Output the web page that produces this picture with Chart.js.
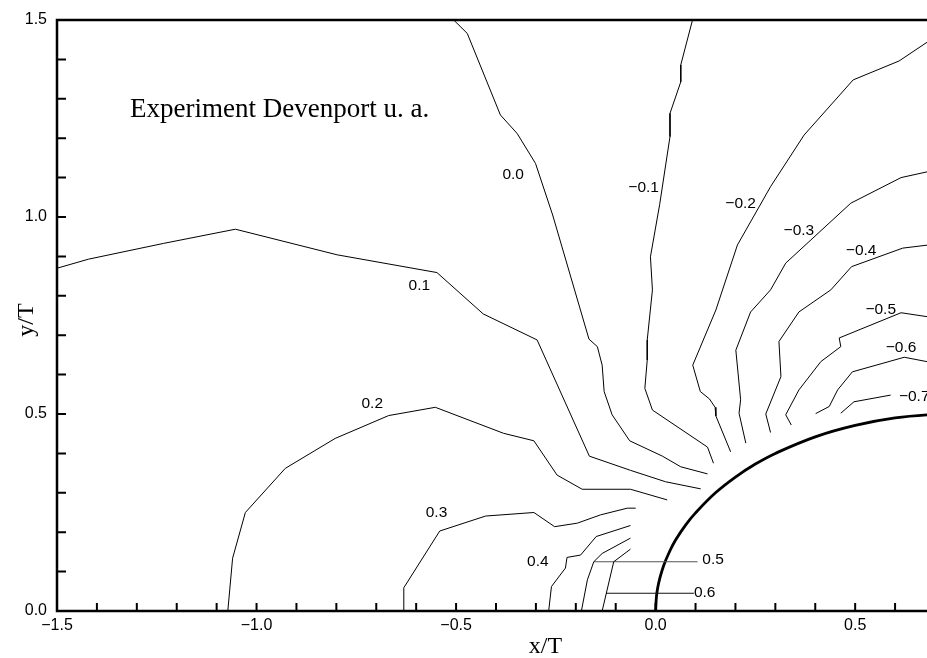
<!DOCTYPE html>
<html>
<head>
<meta charset="utf-8">
<script src="https://cdn.jsdelivr.net/npm/chart.js@4.4.1/dist/chart.umd.min.js"></script>
<style>
html,body{margin:0;padding:0;background:#fff;overflow:hidden}
#wrap{width:927px;height:658px;position:relative}
</style>
</head>
<body>
<div id="wrap"><canvas id="c" width="927" height="658"></canvas></div>
<script>
// ---- contour lines (x/T, y/T) ----
const p01x = [-1.500, -1.421, -1.233, -1.053, -0.798, -0.548, -0.432, -0.297, -0.166, -0.063, 0.025, 0.113];
const p01y = [0.870, 0.893, 0.933, 0.969, 0.904, 0.859, 0.754, 0.688, 0.393, 0.357, 0.328, 0.310];

const p00x = [-0.515, -0.472, -0.389, -0.347, -0.301, -0.258, -0.167, -0.146, -0.134, -0.129, -0.109, -0.065, 0.017, 0.063, 0.130];
const p00y = [1.509, 1.466, 1.259, 1.212, 1.136, 1.005, 0.690, 0.671, 0.624, 0.557, 0.498, 0.432, 0.393, 0.366, 0.348];

const m01x = [0.095, 0.063, 0.063, 0.036, 0.036, 0.010, -0.013, -0.008, -0.021, -0.021, -0.027, -0.008, 0.130, 0.145];
const m01y = [1.510, 1.386, 1.343, 1.263, 1.204, 1.031, 0.899, 0.815, 0.688, 0.637, 0.565, 0.510, 0.416, 0.375];

const m02x = [0.700, 0.610, 0.495, 0.372, 0.288, 0.205, 0.151, 0.093, 0.112, 0.135, 0.149, 0.151, 0.188];
const m02y = [1.457, 1.396, 1.348, 1.208, 1.077, 0.929, 0.764, 0.624, 0.557, 0.538, 0.517, 0.495, 0.404];

const m03x = [0.700, 0.615, 0.489, 0.326, 0.288, 0.238, 0.201, 0.213, 0.209, 0.226];
const m03y = [1.119, 1.100, 1.035, 0.883, 0.815, 0.759, 0.662, 0.536, 0.502, 0.426];

const m04x = [0.700, 0.619, 0.491, 0.439, 0.359, 0.309, 0.314, 0.276, 0.288];
const m04y = [0.931, 0.921, 0.874, 0.815, 0.759, 0.684, 0.595, 0.500, 0.453];

const m05x = [0.700, 0.615, 0.460, 0.464, 0.414, 0.359, 0.326, 0.340];
const m05y = [0.744, 0.757, 0.693, 0.671, 0.633, 0.561, 0.498, 0.472];

const m06x = [0.700, 0.623, 0.493, 0.456, 0.435, 0.401];
const m06y = [0.629, 0.644, 0.607, 0.561, 0.519, 0.501];

const m07x = [0.589, 0.497, 0.464];
const m07y = [0.548, 0.531, 0.502];

const p02x = [-1.072, -1.060, -1.028, -0.928, -0.803, -0.669, -0.552, -0.381, -0.305, -0.247, -0.184, -0.063, 0.029];
const p02y = [0.000, 0.134, 0.250, 0.362, 0.438, 0.496, 0.517, 0.451, 0.432, 0.345, 0.309, 0.309, 0.282];

const p03x = [-0.631, -0.631, -0.541, -0.426, -0.305, -0.253, -0.196, -0.138, -0.071, -0.050];
const p03y = [0.000, 0.059, 0.203, 0.241, 0.250, 0.214, 0.223, 0.244, 0.261, 0.261];

const p04x = [-0.268, -0.261, -0.226, -0.222, -0.188, -0.149, -0.063];
const p04y = [0.000, 0.062, 0.109, 0.136, 0.142, 0.189, 0.217];

const p05x = [-0.186, -0.171, -0.155, -0.134, -0.063];
const p05y = [0.000, 0.079, 0.125, 0.146, 0.185];

const p06x = [-0.134, -0.105, -0.063];
const p06y = [0.000, 0.125, 0.157];

// label leader lines
const lead05x = [-0.155, 0.105];
const lead05y = [0.125, 0.125];
const lead06x = [-0.124, 0.096];
const lead06y = [0.045, 0.045];

// body contour (elliptic nose)
const bodyX = [0, 0.002, 0.005, 0.01, 0.02, 0.035, 0.05, 0.075, 0.1, 0.15, 0.2, 0.25, 0.3, 0.4, 0.5, 0.6, 0.7, 0.75];
const bodyY = [0, 0.036, 0.058, 0.081, 0.115, 0.151, 0.180, 0.218, 0.249, 0.300, 0.340, 0.373, 0.400, 0.442, 0.471, 0.490, 0.499, 0.500];

// contour labels
const labelText = ['0.0', '\u22120.1', '\u22120.2', '\u22120.3', '\u22120.4', '\u22120.5', '\u22120.6', '\u22120.7', '0.1', '0.2', '0.3', '0.4', '0.5', '0.6'];
const labelX = [-0.357, -0.030, 0.213, 0.359, 0.515, 0.564, 0.615, 0.648, -0.592, -0.710, -0.549, -0.295, 0.144, 0.123];
const labelY = [1.108, 1.075, 1.033, 0.966, 0.915, 0.764, 0.667, 0.543, 0.825, 0.525, 0.250, 0.124, 0.129, 0.047];

// axis tick labels (majors)
const majorStep = 0.5;
const annotationText = 'Experiment Devenport u. a.';
const xTitle = 'x/T';
const yTitle = 'y/T';

// ---- build datasets ----
function pts(xs, ys) { return xs.map((v, i) => ({x: v, y: ys[i]})); }
const contourSets = [
  [p01x, p01y], [p00x, p00y], [m01x, m01y], [m02x, m02y], [m03x, m03y], [m04x, m04y],
  [m05x, m05y], [m06x, m06y], [m07x, m07y], [p02x, p02y], [p03x, p03y], [p04x, p04y],
  [p05x, p05y], [p06x, p06y]
];
const datasets = contourSets.map(([xs, ys]) => ({
  data: pts(xs, ys), showLine: true, borderColor: '#000', borderWidth: 1,
  pointRadius: 0, tension: 0, fill: false
}));
datasets.push({data: pts(lead05x, lead05y), showLine: true, borderColor: '#555', borderWidth: 1.2, pointRadius: 0});
datasets.push({data: pts(lead06x, lead06y), showLine: true, borderColor: '#111', borderWidth: 1.2, pointRadius: 0});
datasets.push({data: pts(bodyX, bodyY), showLine: true, borderColor: '#000', borderWidth: 2.8, pointRadius: 0, tension: 0.4});

function fmt(v) {
  const r = v / majorStep;
  if (Math.abs(r - Math.round(r)) > 1e-6) return '';
  const s = Math.abs(v).toFixed(1);
  return (v < -1e-9 ? '\u2212' : '') + s;
}

const deco = {
  id: 'deco',
  afterDatasetsDraw(chart) {
    const {ctx, chartArea: a, scales: {x, y}} = chart;
    ctx.save();
    ctx.strokeStyle = '#000';
    ctx.lineWidth = 2;
    ctx.beginPath();
    y.ticks.forEach(t => {
      const py = y.getPixelForValue(t.value);
      ctx.moveTo(a.left, py); ctx.lineTo(a.left + 9, py);
    });
    x.ticks.forEach(t => {
      const px = x.getPixelForValue(t.value);
      ctx.moveTo(px, a.bottom); ctx.lineTo(px, a.bottom - 8);
    });
    ctx.stroke();
    ctx.lineWidth = 2.5;
    ctx.beginPath();
    ctx.moveTo(a.right + 3, a.top); ctx.lineTo(a.left, a.top);
    ctx.lineTo(a.left, a.bottom); ctx.lineTo(a.right + 3, a.bottom);
    ctx.stroke();

    ctx.fillStyle = '#000';
    ctx.font = '15.5px "Liberation Sans", Arial, sans-serif';
    ctx.textAlign = 'center';
    ctx.textBaseline = 'middle';
    labelText.forEach((t, i) => {
      ctx.fillText(t, x.getPixelForValue(labelX[i]), y.getPixelForValue(labelY[i]));
    });

    ctx.font = '27px "Liberation Serif", "Times New Roman", serif';
    ctx.textAlign = 'left';
    ctx.textBaseline = 'alphabetic';
    ctx.fillText(annotationText, 130, 117);

    ctx.font = '24px "Liberation Serif", "Times New Roman", serif';
    ctx.textAlign = 'center';
    ctx.fillText(xTitle, 545.5, 653);
    ctx.translate(33, 320);
    ctx.rotate(-Math.PI / 2);
    ctx.fillText(yTitle, 0, 0);
    ctx.restore();
  }
};

new Chart(document.getElementById('c'), {
  type: 'scatter',
  data: {datasets},
  options: {
    responsive: false,
    animation: false,
    devicePixelRatio: 1,
    layout: {padding: {top: 20, right: 0, left: 0, bottom: 0}},
    plugins: {legend: {display: false}, tooltip: {enabled: false}},
    scales: {
      x: {
        type: 'linear', min: -1.5, max: 0.68,
        grid: {display: false, drawTicks: false},
        border: {display: false},
        ticks: {
          stepSize: 0.1, includeBounds: false, autoSkip: false, maxRotation: 0, minRotation: 0,
          padding: 5, color: '#000',
          font: {family: '"Liberation Sans", Arial, sans-serif', size: 16},
          callback: v => fmt(v)
        },
        afterFit(s) { s.height = 47; }
      },
      y: {
        type: 'linear', min: 0, max: 1.5,
        grid: {display: false, drawTicks: false},
        border: {display: false},
        ticks: {
          stepSize: 0.1, includeBounds: false, autoSkip: false, padding: 10, color: '#000',
          font: {family: '"Liberation Sans", Arial, sans-serif', size: 16},
          callback: v => fmt(v)
        },
        afterFit(s) { s.width = 57; }
      }
    }
  },
  plugins: [deco]
});
</script>
</body>
</html>
